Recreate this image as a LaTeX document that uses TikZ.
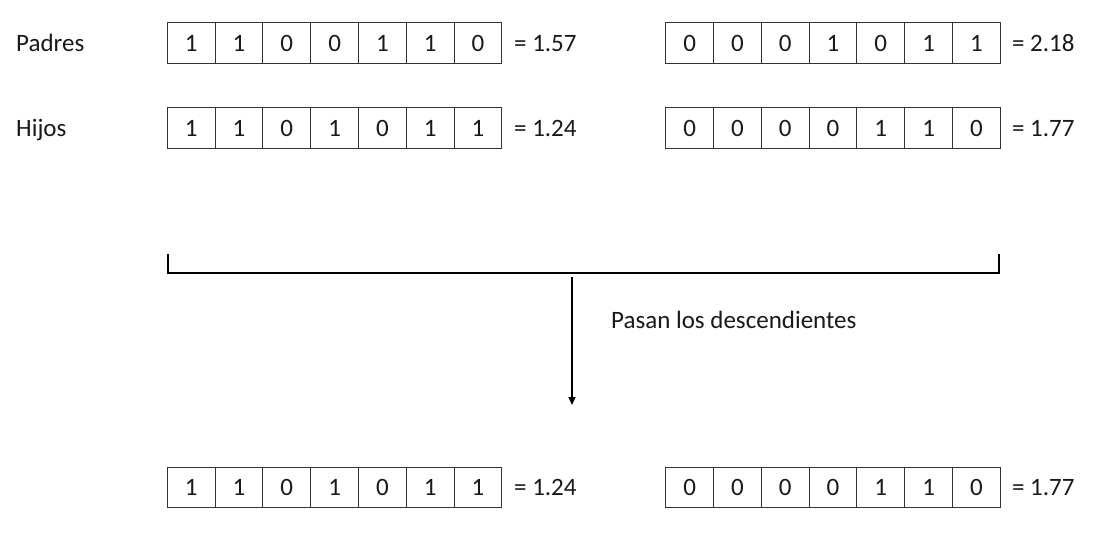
\documentclass[tikz,border=0pt]{standalone}
\usepackage{fontspec}
\setmainfont{Carlito}
\usetikzlibrary{arrows.meta}
\begin{document}
\begin{tikzpicture}[x=1pt,y=-1pt,
  every node/.style={font=\fontsize{25}{30}\selectfont, text=black!90},
  cell/.style={draw=black!80, line width=1.1pt, minimum width=47.8pt, minimum height=40.5pt, inner sep=0pt},
  lbl/.style={anchor=west, inner sep=0pt},
  val/.style={anchor=base west, inner sep=0pt},
  bracket/.style={line width=2pt, black},
  conn/.style={line width=1.6pt, black, -{Triangle[length=8pt,width=7pt]}}]
\useasboundingbox (0,0) rectangle (1098,542);
% rows of cells
\foreach \row/\yy/\bitsA/\valA/\bitsB/\valB in {
  r1/43/{1,1,0,0,1,1,0}/1.57/{0,0,0,1,0,1,1}/2.18,
  r2/128/{1,1,0,1,0,1,1}/1.24/{0,0,0,0,1,1,0}/1.77,
  r3/487.5/{1,1,0,1,0,1,1}/1.24/{0,0,0,0,1,1,0}/1.77}{
  \foreach \b [count=\i] in \bitsA {
    \node[cell] (\row a\i) at ({167.3+47.8*(\i-0.5)},\yy) {\b};
  }
  \node[val, xshift=11.5pt] (\row av) at (\row a7.base -| \row a7.east) {= \valA};
  \foreach \b [count=\i] in \bitsB {
    \node[cell] (\row b\i) at ({665.7+47.8*(\i-0.5)},\yy) {\b};
  }
  \node[val, xshift=11pt] (\row bv) at (\row b7.base -| \row b7.east) {= \valB};
}
% row labels
\node[val] (padres) at (r1a1.base -| 16,0) {Padres};
\node[val] (hijos) at (r2a1.base -| 16,0) {Hijos};
% bracket
\coordinate (bl) at (167.7,254);
\coordinate (br) at (999.3,254);
\coordinate (bm) at (572,273);
\coordinate (as) at (572,277);
\coordinate (ae) at (572,405);
\draw[bracket] (bl) |- (bm) -| (br);
\draw[conn] (as) -- (ae);
\node[lbl] (pasan) at (611,320) {Pasan los descendientes};
\end{tikzpicture}
\end{document}
